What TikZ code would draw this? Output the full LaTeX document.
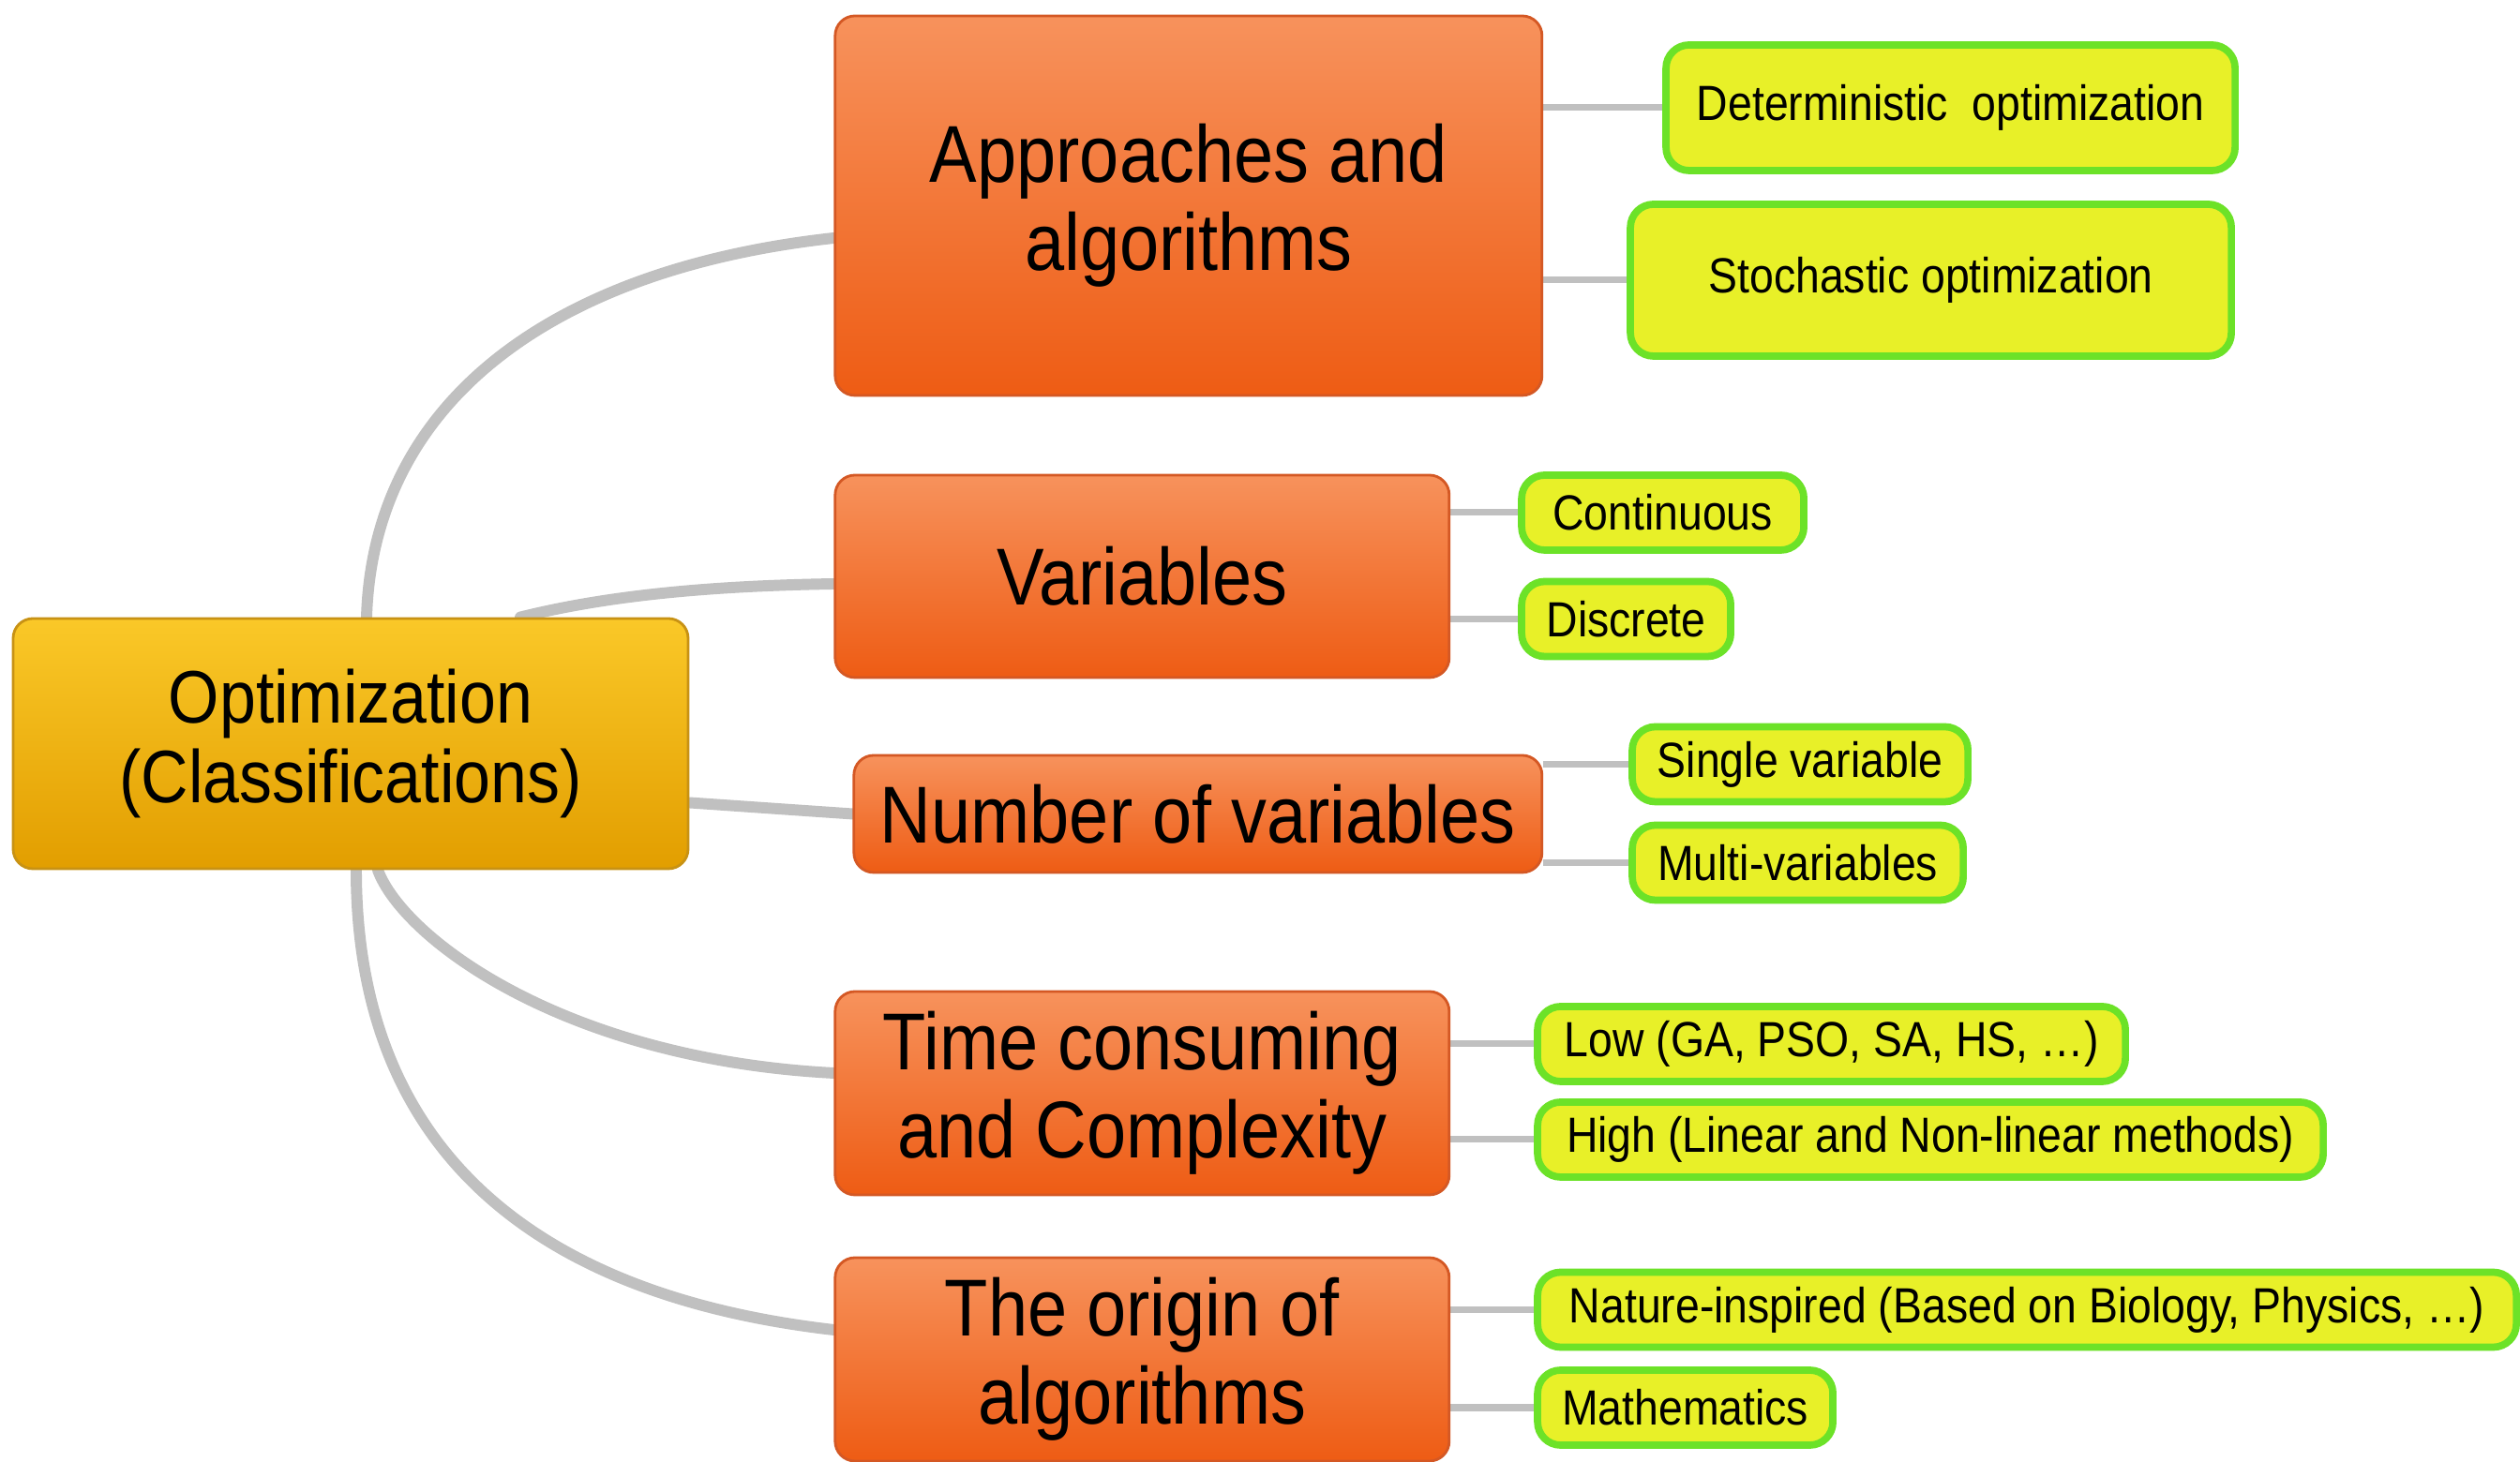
\documentclass[tikz,border=0pt]{standalone}
\usepackage{fontspec}
\setmainfont[FakeStretch=0.88]{Liberation Sans}
\usetikzlibrary{positioning, backgrounds}

\definecolor{rootTop}{RGB}{250,200,40}
\definecolor{rootBot}{RGB}{226,158,0}
\definecolor{rootLine}{RGB}{200,146,20}
\definecolor{topicTop}{RGB}{247,146,92}
\definecolor{topicBot}{RGB}{238,92,20}
\definecolor{topicLine}{RGB}{212,88,36}
\definecolor{leafFill}{RGB}{232,240,40}
\definecolor{leafLine}{RGB}{108,226,40}
\definecolor{linkGray}{RGB}{192,192,192}

\begin{document}
\begin{tikzpicture}[node distance=1cm and 1cm]
    \tikzset{
      root/.style={
        rectangle, rounded corners=6pt,
        draw=rootLine, line width=0.8pt,
        top color=rootTop, bottom color=rootBot,
        minimum width=7.2cm, minimum height=2.67cm, align=center,
        font=\fontsize{22.6}{24.4}\selectfont
      },
      topic/.style={
        rectangle, rounded corners=6pt,
        draw=topicLine, line width=0.8pt,
        top color=topicTop, bottom color=topicBot,
        minimum width=6.55cm, align=center,
        font=\fontsize{24.5}{26.8}\selectfont
      },
      leaf/.style={
        rectangle, rounded corners=7pt,
        draw=leafLine, line width=2.2pt, fill=leafFill,
        minimum height=0.8cm, inner xsep=0.25cm,
        font=\fontsize{15}{18}\selectfont
      },
      trunk/.style={draw=linkGray, line width=3.4pt, line cap=round},
      twig/.style={draw=linkGray, line width=2pt}
    }
    \path[use as bounding box] (0,0) rectangle (26.88,15.6);

    % Centre
    \node[root] (root) at (3.74,7.665) {Optimization\\(Classifications)};

    % Main branches
    \node[topic, minimum width=7.54cm, minimum height=4.05cm, right=1.54cm of root.east, yshift=5.74cm] (app) {Approaches and\\algorithms};
    \node[topic, minimum height=2.16cm, right=1.54cm of root.east, yshift=1.785cm] (vars) {Variables};
    \node[topic, minimum width=7.34cm, minimum height=1.25cm, right=1.74cm of root.east, yshift=-0.75cm] (num) {Number of variables};
    \node[topic, minimum height=2.17cm, right=1.54cm of root.east, yshift=-3.73cm] (time) {Time consuming\\and Complexity};
    \node[topic, minimum height=2.17cm, right=1.54cm of root.east, yshift=-6.57cm] (orig) {The origin of\\algorithms};

    % Leaves
    \node[leaf, minimum width=6.07cm, minimum height=1.34cm, right=1.27cm of app.east, yshift=1.045cm] (det) {Deterministic\ \ optimization};
    \node[leaf, minimum width=6.41cm, minimum height=1.62cm, right=0.89cm of app.east, yshift=-0.795cm] (sto) {Stochastic optimization};
    \node[leaf, minimum width=3.01cm, right=0.72cm of vars.east, yshift=0.68cm] (cont) {Continuous};
    \node[leaf, minimum width=2.23cm, right=0.72cm of vars.east, yshift=-0.455cm] (disc) {Discrete};
    \node[leaf, minimum width=3.58cm, right=0.91cm of num.east, yshift=0.53cm] (single) {Single variable};
    \node[leaf, minimum width=3.53cm, right=0.91cm of num.east, yshift=-0.52cm] (multi) {Multi-variables};
    \node[leaf, minimum width=6.27cm, right=0.89cm of time.east, yshift=0.525cm] (low) {Low (GA, PSO, SA, HS, \ldots)};
    \node[leaf, minimum width=8.38cm, right=0.89cm of time.east, yshift=-0.495cm] (high) {High (Linear and Non-linear methods)};
    \node[leaf, minimum width=10.44cm, right=0.89cm of orig.east, yshift=0.53cm] (nat) {Nature-inspired (Based on Biology, Physics, \ldots)};
    \node[leaf, minimum width=3.15cm, right=0.89cm of orig.east, yshift=-0.515cm] (math) {Mathematics};

    \begin{scope}[on background layer]
      \fill[white] (0,0) rectangle (26.88,15.6);
      % curved links out of the centre
      \draw[trunk] ([xshift=0.17cm]root.north) .. controls +(0.07,2.3) and +(-3.0,-0.33) .. ([yshift=-0.345cm]app.west);
      \draw[trunk] ([xshift=1.81cm]root.north) .. controls +(1.0,0.25) and +(-1.2,-0.02) .. ([yshift=-0.08cm]vars.west);
      \draw[trunk] ([yshift=-0.63cm]root.east) -- (num.west);
      \draw[trunk] ([xshift=0.29cm]root.south) .. controls +(0.27,-0.73) and +(-2.88,0.15) .. ([yshift=0.215cm]time.west);
      \draw[trunk] ([xshift=0.06cm]root.south) .. controls +(0,-2.83) and +(-3.38,0.39) .. ([yshift=0.315cm]orig.west);
      % short links to the leaves
      \foreach \a/\b in {app/det, app/sto, vars/cont, vars/disc, num/single, num/multi, time/low, time/high, orig/nat, orig/math}
        \draw[twig] (\b.west -| \a.east) -- (\b.west);
    \end{scope}
  \end{tikzpicture}
\end{document}
